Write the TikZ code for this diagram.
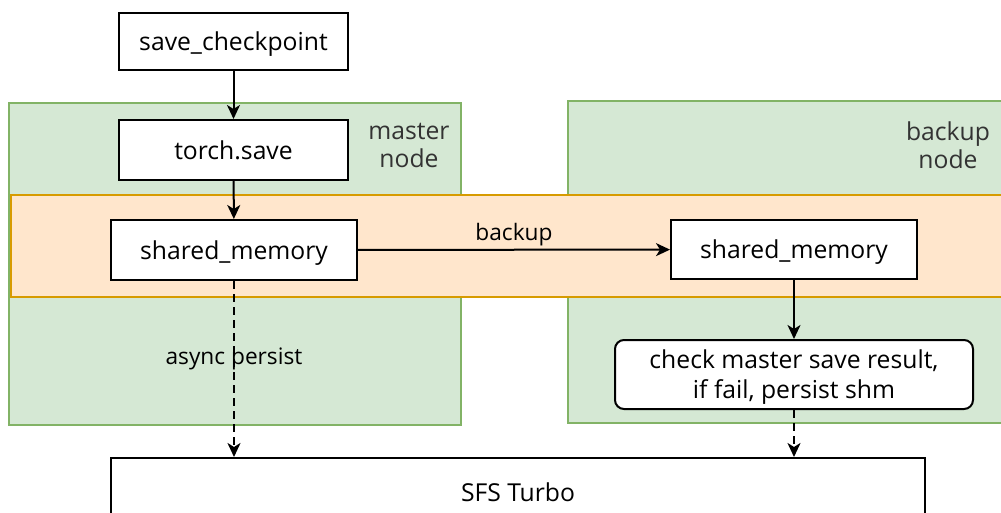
\documentclass[tikz,border=0pt]{standalone}
\usepackage{fontspec}
\setmainfont{Open Sans}
\usepackage{tikz}
\usetikzlibrary{arrows.meta,positioning}
\definecolor{nodegreen}{HTML}{D5E8D4}
\definecolor{nodegreenline}{HTML}{82B366}
\definecolor{bandorange}{HTML}{FFE6CC}
\definecolor{bandorangeline}{HTML}{D79B00}
\definecolor{regiontext}{HTML}{333333}

\begin{document}
\begin{tikzpicture}[
  x=1pt,y=-1pt,
  region/.style={fill=nodegreen,draw=nodegreenline,line width=1.5pt},
  band/.style={fill=bandorange,draw=bandorangeline,line width=1.5pt},
  box/.style={draw=black,fill=white,line width=2pt,font=\fontsize{24.7}{30}\selectfont,inner sep=0pt,text depth=0pt},
  tag/.style={font=\fontsize{24.7}{28}\selectfont,regiontext,align=center},
  flow/.style={-{Stealth[length=14pt,width=13pt,inset=4pt]},line width=2pt},
  lbl/.style={font=\fontsize{22.7}{27}\selectfont}
]
\useasboundingbox (0,0) rectangle (1001,513);
\clip (0,0) rectangle (1001,513);

% machines and shared memory band
\draw[region] (9,103) rectangle (461,425);
\draw[region] (568,101) rectangle (1012,423);
\draw[band] (11,195) rectangle (1012,297);
\node[tag] (mastertag) at (409,145) {master\\node};
\node[tag] (backuptag) at (948,145) {backup\\node};

\node[box,minimum width=229pt,minimum height=57pt] (ckpt) at (233.5,41.5) {save\_checkpoint};
\node[box,minimum width=229pt,minimum height=60pt] (torch) at (233.5,150) {torch.save};
\node[box,minimum width=246pt,minimum height=60pt] (shmA) at (234,250) {shared\_memory};
\node[box,minimum width=246pt,minimum height=59pt] (shmB) at (794,249.5) {shared\_memory};
\node[box,rounded corners=9pt,align=center,minimum width=358pt,minimum height=69pt] (check) at (794,374.5)
  {check master save result,\\if fail, persist shm};
\node[box,minimum width=814pt,minimum height=68pt] (sfs) at (518,492) {SFS Turbo};

\draw[flow] (ckpt) -- (torch);
\draw[flow] (torch) -- (shmA);
\draw[flow] (shmA) -- node[lbl,above=-1pt]{backup} (shmB);
\draw[flow] (shmB) -- (check);
\draw[flow,dash pattern=on 8pt off 5pt] (shmA) -- node[lbl,pos=0.44]{async persist} (shmA |- sfs.north);
\draw[flow,dash pattern=on 8pt off 5pt] (check) -- (sfs.north -| check);
\end{tikzpicture}
\end{document}
